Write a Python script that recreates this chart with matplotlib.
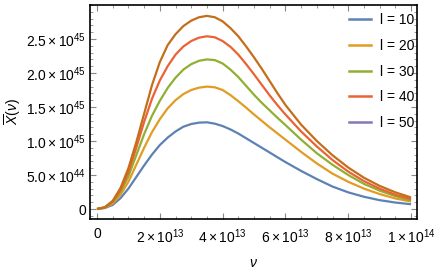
import matplotlib
matplotlib.use("Agg")
import matplotlib.pyplot as plt
from matplotlib.lines import Line2D
from matplotlib.ticker import FixedLocator, MultipleLocator

plt.rcParams['font.family'] = ['Liberation Sans', 'DejaVu Sans']
plt.rcParams['mathtext.fontset'] = 'custom'
plt.rcParams['mathtext.rm'] = 'Liberation Sans'
plt.rcParams['mathtext.it'] = 'Liberation Sans:italic'

# frequency nu in units of 1e13
nu = [0, 0.25, 0.5, 0.75, 1, 1.25, 1.5, 1.75, 2, 2.25, 2.5, 2.75, 3, 3.25, 3.5,
      3.75, 4, 4.25, 4.5, 4.75, 5, 5.25, 5.5, 5.75, 6, 6.5, 7, 7.5, 8, 8.5, 9, 9.5, 10]
# values in units of 1e45
l10 = [0, 0.015, 0.06, 0.16, 0.30, 0.47, 0.64, 0.80, 0.94, 1.05, 1.14, 1.21, 1.25, 1.27, 1.275,
       1.255, 1.22, 1.17, 1.11, 1.04, 0.97, 0.90, 0.83, 0.76, 0.69,
       0.56, 0.44, 0.33, 0.245, 0.18, 0.13, 0.095, 0.07]
l20 = [0, 0.02, 0.08, 0.21, 0.40, 0.65, 0.90, 1.13, 1.32, 1.48, 1.60, 1.69, 1.75, 1.785, 1.80,
       1.79, 1.75, 1.675, 1.585, 1.49, 1.39, 1.295, 1.20, 1.11, 1.02,
       0.84, 0.67, 0.52, 0.40, 0.30, 0.22, 0.155, 0.11]
l30 = [0, 0.02, 0.10, 0.25, 0.48, 0.79, 1.10, 1.37, 1.59, 1.78, 1.93, 2.05, 2.13, 2.18, 2.20,
       2.19, 2.14, 2.05, 1.94, 1.81, 1.68, 1.56, 1.45, 1.34, 1.235,
       1.02, 0.82, 0.65, 0.50, 0.37, 0.27, 0.19, 0.125]
l40 = [0, 0.025, 0.11, 0.28, 0.54, 0.90, 1.28, 1.62, 1.89, 2.10, 2.27, 2.39, 2.47, 2.52, 2.54,
       2.525, 2.47, 2.385, 2.27, 2.13, 1.98, 1.825, 1.67, 1.525, 1.39,
       1.14, 0.92, 0.72, 0.55, 0.41, 0.30, 0.21, 0.145]
l50 = [0, 0.025, 0.12, 0.31, 0.60, 0.98, 1.40, 1.82, 2.16, 2.41, 2.57, 2.69, 2.77, 2.82, 2.84,
       2.82, 2.76, 2.66, 2.54, 2.39, 2.23, 2.06, 1.88, 1.70, 1.53,
       1.24, 1.00, 0.79, 0.61, 0.46, 0.34, 0.245, 0.17]

series = [l10, l20, l30, l40, l50]
labels = ['l = 10', 'l = 20', 'l = 30', 'l = 40', 'l = 50']
line_colors = ['#5E81B5', '#E19C24', '#8FB032', '#EB6235', '#C56E1A']
legend_colors = ['#5E81B5', '#E19C24', '#8FB032', '#EB6235', '#8778B3']

xticks = [0, 2, 4, 6, 8, 10]
xticklabels = ['0', r'$2\times10^{13}$', r'$4\times10^{13}$', r'$6\times10^{13}$',
               r'$8\times10^{13}$', r'$1\times10^{14}$']
yticks = [0, 0.5, 1.0, 1.5, 2.0, 2.5]
yticklabels = ['0', r'$5.0\times10^{44}$', r'$1.0\times10^{45}$', r'$1.5\times10^{45}$',
               r'$2.0\times10^{45}$', r'$2.5\times10^{45}$']

fig = plt.figure(figsize=(4.36, 2.73), dpi=100)
ax = fig.add_axes([90/436, 1-219/273, 327/436, 214/273])

for ys, c in zip(series, line_colors):
    ax.plot(nu, ys, color=c, lw=1.6, solid_capstyle='butt', solid_joinstyle='round')

ax.set_xlim(-0.223, 10.19)
ax.set_ylim(-0.147, 3.0)

ax.xaxis.set_major_locator(FixedLocator(xticks))
ax.set_xticklabels(xticklabels)
ax.yaxis.set_major_locator(FixedLocator(yticks))
ax.set_yticklabels(yticklabels)
ax.xaxis.set_minor_locator(MultipleLocator(0.5))
ax.yaxis.set_minor_locator(MultipleLocator(0.1))

ax.tick_params(which='both', direction='in', top=True, right=True, color='#888888',
               labelsize=10)
ax.tick_params(which='major', length=4, width=0.8)
ax.tick_params(which='minor', length=2, width=0.6)
ax.tick_params(axis='x', pad=6)
ax.tick_params(axis='y', pad=3)

for s in ax.spines.values():
    s.set_linewidth(1.2)
    s.set_color('black')

ax.set_xlabel(r'$\nu$', fontsize=10, labelpad=7)
ax.set_ylabel(r'$\overline{X}(\nu)$', fontsize=10, labelpad=2)

handles = [Line2D([], [], color=c, lw=1.8) for c in legend_colors]
ax.legend(handles, labels, loc='upper right', bbox_to_anchor=(0.991, 0.963),
          frameon=False, fontsize=10, handlelength=1.6, handletextpad=0.6,
          labelspacing=0.85, borderaxespad=0, borderpad=0)

fig.savefig('out.png', dpi=100)
